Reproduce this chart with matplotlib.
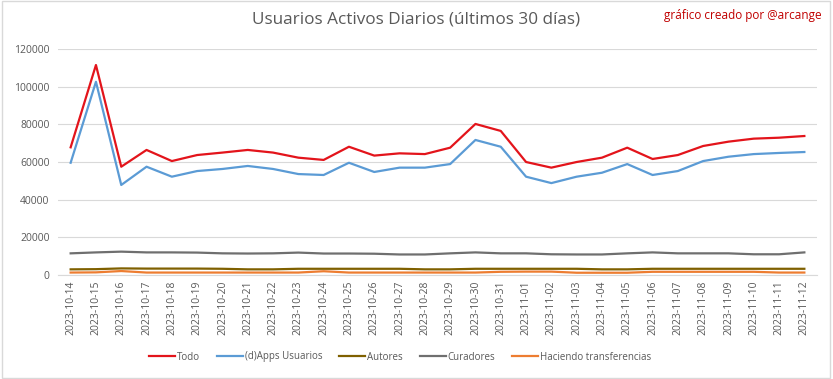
import matplotlib
matplotlib.use("Agg")
import matplotlib.pyplot as plt
from matplotlib.patches import Rectangle

dates = ["2023-10-14", "2023-10-15", "2023-10-16", "2023-10-17", "2023-10-18", "2023-10-19",
         "2023-10-20", "2023-10-21", "2023-10-22", "2023-10-23", "2023-10-24", "2023-10-25",
         "2023-10-26", "2023-10-27", "2023-10-28", "2023-10-29", "2023-10-30", "2023-10-31",
         "2023-11-01", "2023-11-02", "2023-11-03", "2023-11-04", "2023-11-05", "2023-11-06",
         "2023-11-07", "2023-11-08", "2023-11-09", "2023-11-10", "2023-11-11", "2023-11-12"]

todo = [67800, 111500, 57500, 66400, 60500, 63700, 65000, 66400, 65000, 62300,
        61100, 68100, 63400, 64600, 64200, 67600, 80200, 76500, 60000, 57000,
        60000, 62300, 67600, 61600, 63700, 68500, 70800, 72400, 72900, 73800]

dapps = [59600, 102600, 47800, 57500, 52200, 55200, 56300, 57900, 56300, 53600,
         53100, 59600, 54700, 57000, 57000, 58900, 71700, 68100, 52200, 48800,
         52200, 54300, 58900, 53100, 55200, 60500, 62800, 64200, 64800, 65300]

autores = [3000, 3100, 3500, 3400, 3400, 3400, 3300, 3000, 3000, 3300,
           3300, 3300, 3300, 3300, 3000, 3000, 3300, 3300, 3300, 3300,
           3300, 3000, 3000, 3300, 3300, 3300, 3300, 3300, 3300, 3300]

curadores = [11500, 12000, 12400, 12000, 12000, 11900, 11500, 11400, 11500, 11900,
             11400, 11400, 11300, 10900, 10900, 11500, 12000, 11500, 11500, 11000,
             10900, 10900, 11500, 12000, 11500, 11500, 11500, 11000, 11000, 12000]

transfer = [1300, 1400, 2100, 1300, 1300, 1300, 1300, 1300, 1300, 1300,
            2000, 1300, 1300, 1300, 1300, 1300, 1300, 1700, 1800, 1800,
            1200, 1200, 1200, 1700, 1700, 1700, 1700, 1700, 1300, 1300]

series = [("Todo", todo, "#e3141b"),
          ("(d)Apps Usuarios", dapps, "#5b9bd5"),
          ("Autores", autores, "#7f6000"),
          ("Curadores", curadores, "#6f6f6f"),
          ("Haciendo transferencias", transfer, "#ed7d31")]

plt.rcParams['font.family'] = ['Open Sans', 'DejaVu Sans']

fig = plt.figure(figsize=(8.33, 3.79), dpi=100)
ax = fig.add_axes([58/833, 1-275/379, (817-58)/833, (275-49)/379])

x = list(range(len(dates)))
for name, vals, col in series:
    ax.plot(x, vals, color=col, lw=1.6, label=name, solid_joinstyle='round')

ax.set_xlim(-0.5, len(dates)-0.5)
ax.set_ylim(0, 120000)
ax.set_yticks(range(0, 120001, 20000))
ax.set_xticks(x)
ax.set_xticklabels(dates, rotation=90, fontsize=7.5, color="#595959")
ax.tick_params(axis='y', labelsize=7.5, colors="#595959", length=0, pad=6)
ax.tick_params(axis='x', length=0, pad=4)
ax.grid(axis='y', color="#d9d9d9", lw=0.8)
ax.set_axisbelow(True)
for s in ['left', 'right', 'top']:
    ax.spines[s].set_visible(False)
ax.spines['bottom'].set_color("#d9d9d9")

fig.text(0.5, 1-20/379, "Usuarios Activos Diarios (últimos 30 días)", ha='center', va='center',
         fontsize=12.3, color="#595959")
fig.text(822/833, 1-16/379, "gráfico creado por @arcange", ha='right', va='center',
         fontsize=8.5, color="#c00000")

leg = fig.legend(loc='center', bbox_to_anchor=(400/833, 1-357/379), ncol=5, frameon=False,
                 fontsize=7, handlelength=2.7, columnspacing=1.75, handletextpad=0.15)
for t in leg.get_texts():
    t.set_color("#595959")

fig.patches.append(Rectangle((0.002, 0.003), 0.994, 0.994, transform=fig.transFigure,
                             fill=False, edgecolor="#d9d9d9", lw=1))

fig.savefig("out.png", dpi=100, facecolor="white")
